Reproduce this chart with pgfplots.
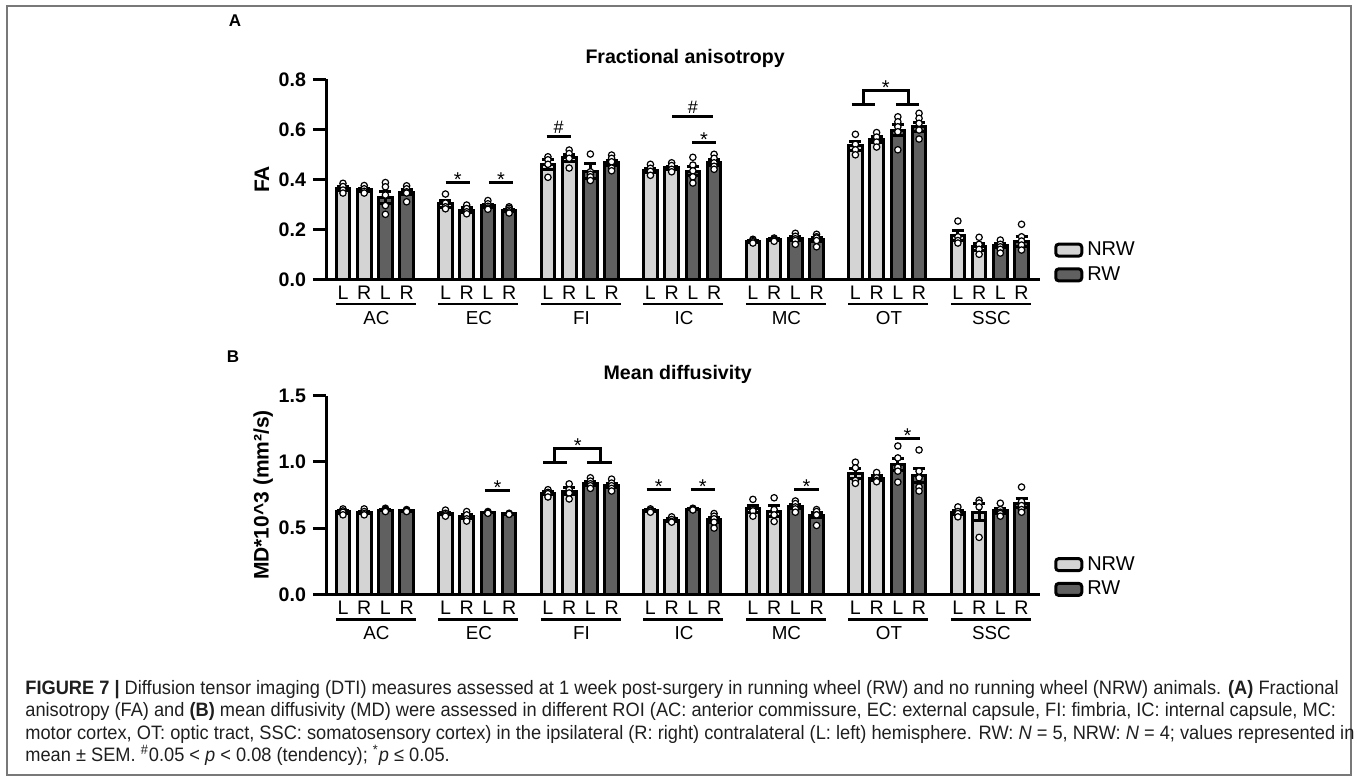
\documentclass[border=0pt]{standalone}
\usepackage{pgfplots}
\usepackage{pgfplotstable}
\pgfplotsset{compat=1.18}
\usepackage{fontspec}
\setmainfont{Liberation Sans}
\newfontfamily\capfont[FakeStretch=0.94]{Liberation Sans}
\definecolor{nrw}{RGB}{212,212,212}
\definecolor{rw}{RGB}{96,96,96}
\definecolor{frame}{RGB}{120,120,120}
\newcommand\fs[1]{\fontsize{#1}{#1}\selectfont}

% bars: x, mean, SEM
\pgfplotstableread{
x y e
0 0.362 0.008
1 0.358 0.007
4.83 0.302 0.014
5.83 0.277 0.009
9.66 0.458 0.020
10.66 0.486 0.015
14.49 0.436 0.009
15.49 0.446 0.007
19.32 0.152 0.004
20.32 0.158 0.004
24.15 0.534 0.018
25.15 0.558 0.012
28.98 0.175 0.020
29.98 0.130 0.014
}\faN
\pgfplotstableread{
x y e
2 0.327 0.024
3 0.349 0.011
6.83 0.295 0.006
7.83 0.275 0.004
11.66 0.432 0.030
12.66 0.466 0.011
16.49 0.432 0.018
17.49 0.468 0.011
21.32 0.162 0.008
22.32 0.160 0.009
26.15 0.597 0.022
27.15 0.610 0.018
30.98 0.134 0.008
31.98 0.150 0.020
}\faR
\pgfplotstableread{
x y e
0 0.624 0.010
1 0.618 0.010
4.83 0.609 0.010
5.83 0.587 0.016
9.66 0.765 0.013
10.66 0.778 0.025
14.49 0.632 0.006
15.49 0.561 0.009
19.32 0.645 0.026
20.32 0.628 0.040
24.15 0.912 0.037
25.15 0.876 0.018
28.98 0.620 0.015
29.98 0.620 0.065
}\mdN
\pgfplotstableread{
x y e
2 0.636 0.005
3 0.632 0.003
6.83 0.618 0.003
7.83 0.607 0.002
11.66 0.838 0.014
12.66 0.822 0.016
16.49 0.642 0.003
17.49 0.562 0.020
21.32 0.662 0.015
22.32 0.598 0.020
26.15 0.978 0.045
27.15 0.897 0.050
30.98 0.630 0.016
31.98 0.688 0.033
}\mdR

% individual animals
\pgfplotstableread{
x y
0 0.384
0 0.371
0 0.357
0 0.345
1 0.375
1 0.362
1 0.352
1 0.345
4.83 0.341
4.83 0.305
4.83 0.290
4.83 0.282
5.83 0.297
5.83 0.283
5.83 0.270
5.83 0.262
9.66 0.490
9.66 0.478
9.66 0.460
9.66 0.408
10.66 0.517
10.66 0.503
10.66 0.484
10.66 0.445
14.49 0.460
14.49 0.444
14.49 0.432
14.49 0.416
15.49 0.466
15.49 0.455
15.49 0.440
15.49 0.430
19.32 0.160
19.32 0.155
19.32 0.150
19.32 0.145
20.32 0.165
20.32 0.160
20.32 0.157
20.32 0.152
24.15 0.580
24.15 0.540
24.15 0.518
24.15 0.498
25.15 0.587
25.15 0.569
25.15 0.549
25.15 0.529
28.98 0.233
28.98 0.170
28.98 0.155
28.98 0.145
29.98 0.168
29.98 0.140
29.98 0.120
29.98 0.100
}\faNp
\pgfplotstableread{
x y
2 0.387
2 0.370
2 0.337
2 0.295
2 0.260
3 0.374
3 0.362
3 0.350
3 0.345
3 0.310
6.83 0.315
6.83 0.302
6.83 0.292
6.83 0.285
6.83 0.280
7.83 0.290
7.83 0.284
7.83 0.277
7.83 0.270
7.83 0.265
11.66 0.501
11.66 0.430
11.66 0.420
11.66 0.410
11.66 0.395
12.66 0.497
12.66 0.484
12.66 0.470
12.66 0.445
12.66 0.434
16.49 0.488
16.49 0.457
16.49 0.434
16.49 0.410
16.49 0.385
17.49 0.500
17.49 0.484
17.49 0.466
17.49 0.452
17.49 0.440
21.32 0.184
21.32 0.172
21.32 0.162
21.32 0.155
21.32 0.140
22.32 0.180
22.32 0.170
22.32 0.165
22.32 0.155
22.32 0.130
26.15 0.650
26.15 0.630
26.15 0.610
26.15 0.590
26.15 0.518
27.15 0.664
27.15 0.644
27.15 0.624
27.15 0.597
27.15 0.561
30.98 0.157
30.98 0.140
30.98 0.130
30.98 0.120
30.98 0.105
31.98 0.220
31.98 0.170
31.98 0.153
31.98 0.137
31.98 0.117
}\faRp
\pgfplotstableread{
x y
0 0.645
0 0.630
0 0.620
0 0.600
1 0.645
1 0.625
1 0.610
1 0.600
4.83 0.636
4.83 0.612
4.83 0.600
4.83 0.590
5.83 0.625
5.83 0.600
5.83 0.570
5.83 0.553
9.66 0.790
9.66 0.770
9.66 0.760
9.66 0.735
10.66 0.834
10.66 0.790
10.66 0.765
10.66 0.720
14.49 0.645
14.49 0.635
14.49 0.630
14.49 0.620
15.49 0.585
15.49 0.565
15.49 0.550
15.49 0.545
19.32 0.717
19.32 0.640
19.32 0.630
19.32 0.590
20.32 0.729
20.32 0.640
20.32 0.600
20.32 0.550
24.15 0.998
24.15 0.955
24.15 0.860
24.15 0.838
25.15 0.920
25.15 0.880
25.15 0.860
25.15 0.850
28.98 0.660
28.98 0.625
28.98 0.610
28.98 0.585
29.98 0.710
29.98 0.690
29.98 0.660
29.98 0.430
}\mdNp
\pgfplotstableread{
x y
2 0.650
2 0.642
2 0.636
2 0.630
2 0.625
3 0.640
3 0.635
3 0.632
3 0.628
3 0.625
6.83 0.625
6.83 0.620
6.83 0.618
6.83 0.615
6.83 0.612
7.83 0.612
7.83 0.608
7.83 0.606
7.83 0.605
7.83 0.604
11.66 0.880
11.66 0.855
11.66 0.835
11.66 0.820
11.66 0.800
12.66 0.870
12.66 0.840
12.66 0.820
12.66 0.800
12.66 0.780
16.49 0.650
16.49 0.645
16.49 0.640
16.49 0.640
16.49 0.637
17.49 0.610
17.49 0.590
17.49 0.570
17.49 0.545
17.49 0.500
21.32 0.705
21.32 0.685
21.32 0.660
21.32 0.645
21.32 0.620
22.32 0.640
22.32 0.625
22.32 0.600
22.32 0.600
22.32 0.520
26.15 1.120
26.15 1.030
26.15 0.960
26.15 0.930
26.15 0.847
27.15 1.090
27.15 0.930
27.15 0.880
27.15 0.810
27.15 0.780
30.98 0.688
30.98 0.640
30.98 0.620
30.98 0.610
30.98 0.590
31.98 0.810
31.98 0.700
31.98 0.670
31.98 0.640
31.98 0.620
}\mdRp

\pgfplotsset{
  dti/.style={
    scale only axis, width=357pt,
    xmin=-0.8, xmax=32.85, ymin=0,
    axis x line*=bottom, axis y line*=left,
    axis line style={line width=1.5pt, -},
    clip=false,
    xtick={0,1,2,3,4.83,5.83,6.83,7.83,9.66,10.66,11.66,12.66,14.49,15.49,16.49,17.49,19.32,20.32,21.32,22.32,24.15,25.15,26.15,27.15,28.98,29.98,30.98,31.98},
    xticklabels={L,R,L,R,L,R,L,R,L,R,L,R,L,R,L,R,L,R,L,R,L,R,L,R,L,R,L,R},
    xtick style={draw=none},
    xticklabel style={anchor=center, font=\fs{9.8}},
    ytick style={line width=1.5pt, black},
    tick align=outside, major tick length=6.5pt,
    ytick pos=left, xtick pos=bottom,
    yticklabel style={font=\bfseries\fs{9.8}, /pgf/number format/.cd, fixed, fixed zerofill, precision=1, assume math mode=true},
    title style={font=\bfseries\fs{9.8}, anchor=center},
    ylabel style={font=\bfseries\fs{10.5}, anchor=center},
    legend style={draw=none, fill=none, font=\fs{10}, anchor=west, legend cell align=left, row sep=0pt},
  },
  bars/.style={ybar, bar width=0.645, bar shift=0pt, fill=#1, draw=black, line width=1.5pt,
    legend image code/.code={\draw[fill=#1, draw=black, line width=1.5pt, rounded corners=1.5pt] (0pt,-3pt) rectangle (13pt,3pt);},
    error bars/y dir=both, error bars/y explicit,
    error bars/error bar style={line width=1.5pt, black},
    error bars/error mark options={rotate=90, mark size=3pt, line width=1.5pt, black}},
  pts/.style={only marks, mark=*, mark size=1.6pt, mark options={fill=white, draw=black, line width=0.6pt}, forget plot},
}

% significance line with symbol on top
\newcommand\sig[5]{\draw[line width=1.5pt] (axis cs:#1,#3) -- node[anchor=base, inner sep=0pt, yshift=#5, font=\fs{10}] {#4} (axis cs:#2,#3);}
% region underline and name
\newcommand\grp[2]{\draw[line width=1.2pt] ([yshift=-12.5pt]axis cs:#1-0.33,0) -- ([yshift=-12.5pt]axis cs:#1+3.43,0);
  \node[font=\fs{9.4}] at ([yshift=-19.5pt]axis cs:#1+1.58,0) {#2};}
\newcommand\regions{\grp{0}{AC}\grp{4.83}{EC}\grp{9.66}{FI}\grp{14.49}{IC}\grp{19.32}{MC}\grp{24.15}{OT}\grp{28.98}{SSC}}

\begin{document}
\begin{tikzpicture}
\useasboundingbox (0,0) rectangle (678.5pt,-390.5pt);

% A: fractional anisotropy
\begin{axis}[dti, at={(163pt,-139.65pt)}, anchor=south west, height=100pt,
  ymax=0.8, ytick={0,0.2,0.4,0.6,0.8},
  title={Fractional anisotropy}, title style={at={(axis description cs:0.503,1.045)}},
  ylabel={FA}, ylabel style={at={(axis description cs:-0.0896,0.5)}},
  legend style={at={(axis description cs:1.011,0.084)}}]
\addplot[bars=nrw] table[x=x, y=y, y error=e] {\faN};
\addlegendentry{NRW}
\addplot[bars=rw] table[x=x, y=y, y error=e] {\faR};
\addlegendentry{RW}
\addplot[pts] table[x=x, y=y] {\faNp};
\addplot[pts] table[x=x, y=y] {\faRp};
\sig{4.84}{5.98}{0.386}{*}{-2pt}
\sig{6.88}{8.01}{0.386}{*}{-2pt}
\sig{9.60}{10.73}{0.570}{\fs{9}\#}{1.8pt}
\sig{15.52}{17.45}{0.650}{\fs{9}\#}{1.8pt}
\sig{16.46}{17.57}{0.548}{*}{-2pt}
\draw[line width=1.5pt] (axis cs:23.97,0.701) -- (axis cs:25.07,0.701);
\draw[line width=1.5pt] (axis cs:26.06,0.701) -- (axis cs:27.16,0.701);
\draw[line width=1.5pt] (axis cs:24.52,0.701) -- (axis cs:24.52,0.754) -- node[anchor=base, inner sep=0pt, yshift=-2pt, font=\fs{10}] {*} (axis cs:26.64,0.754) -- (axis cs:26.64,0.701);
\regions
\end{axis}

% B: mean diffusivity
\begin{axis}[dti, at={(163pt,-297.15pt)}, anchor=south west, height=99.3pt,
  ymax=1.5, ytick={0,0.5,1,1.5},
  title={Mean diffusivity}, title style={at={(axis description cs:0.4926,1.049)}},
  ylabel={MD*10\textasciicircum 3 (mm²/s)}, ylabel style={at={(axis description cs:-0.088,0.5)}},
  legend style={at={(axis description cs:1.011,0.087)}}]
\addplot[bars=nrw] table[x=x, y=y, y error=e] {\mdN};
\addlegendentry{NRW}
\addplot[bars=rw] table[x=x, y=y, y error=e] {\mdR};
\addlegendentry{RW}
\addplot[pts] table[x=x, y=y] {\mdNp};
\addplot[pts] table[x=x, y=y] {\mdRp};
\sig{6.69}{7.87}{0.782}{*}{-2pt}
\sig{14.31}{15.46}{0.793}{*}{-2pt}
\sig{16.39}{17.53}{0.793}{*}{-2pt}
\sig{21.27}{22.43}{0.793}{*}{-2pt}
\sig{26.01}{27.19}{1.178}{*}{-2pt}
\draw[line width=1.5pt] (axis cs:9.44,0.994) -- (axis cs:10.57,0.994);
\draw[line width=1.5pt] (axis cs:11.51,0.994) -- (axis cs:12.66,0.994);
\draw[line width=1.5pt] (axis cs:9.99,0.994) -- (axis cs:9.99,1.103) -- node[anchor=base, inner sep=0pt, yshift=-2pt, font=\fs{10}] {*} (axis cs:12.14,1.103) -- (axis cs:12.14,0.994);
\regions
\end{axis}

\begin{scope}[x=0.5pt, y=-0.5pt]
\draw[frame, line width=1pt] (7.3,6) rectangle (1350.5,775);
\node[font=\bfseries\fs{8.5}] at (235,21) {A};
\node[font=\bfseries\fs{8.5}] at (233,357) {B};
\begin{scope}[every node/.style={anchor=base west, inner sep=0pt, font=\capfont\fs{9.7}, text=black!88}]
\node at (25,694) {\textbf{FIGURE 7 |} Diffusion tensor imaging (DTI) measures assessed at 1 week post-surgery in running wheel (RW) and no running wheel (NRW) animals. \textbf{(A)} Fractional};
\node at (25,716.5) {anisotropy (FA) and \textbf{(B)} mean diffusivity (MD) were assessed in different ROI (AC: anterior commissure, EC: external capsule, FI: fimbria, IC: internal capsule, MC:};
\node at (25,739) {motor cortex, OT: optic tract, SSC: somatosensory cortex) in the ipsilateral (R: right) contralateral (L: left) hemisphere. RW: \textit{N} = 5, NRW: \textit{N} = 4; values represented in};
\node at (25,761.5) {mean ± SEM. \textsuperscript{\#}0.05 < \textit{p} < 0.08 (tendency); \textsuperscript{*}\textit{p} ≤ 0.05.};
\end{scope}
\end{scope}
\end{tikzpicture}
\end{document}
